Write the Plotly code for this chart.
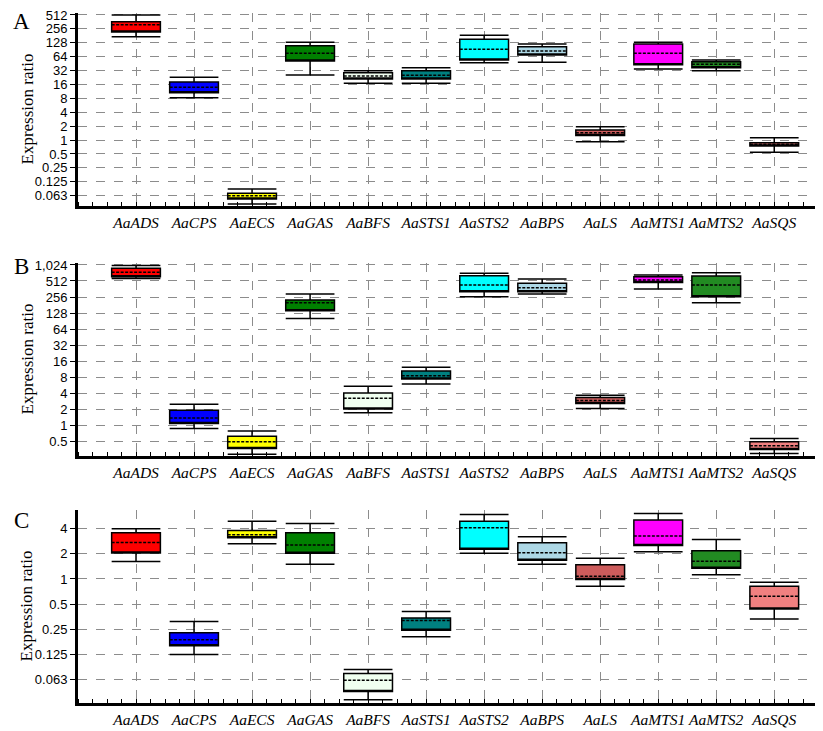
import plotly.graph_objects as go

# ---------------- data ----------------
genes = ["AaADS", "AaCPS", "AaECS", "AaGAS", "AaBFS", "AaSTS1",
         "AaSTS2", "AaBPS", "AaLS", "AaMTS1", "AaMTS2", "AaSQS"]
colors = ["#FF0000", "#0000FF", "#FFFF00", "#008000", "#F0FFF0", "#008080",
          "#00FFFF", "#ADD8E6", "#CD5C5C", "#FF00FF", "#228B22", "#F08080"]

# Panel A (expression ratios)
a_low = [173.7, 8.28, 0.0412, 25.6, 17.0, 17.0, 47.5, 48.5, 0.92, 34.8, 31.8, 0.543]
a_q1 = [219.8, 10.6, 0.0529, 51.6, 21.1, 21.1, 54.2, 69.6, 1.25, 42.8, 37.0, 0.747]
a_med = [315.2, 13.9, 0.0625, 75.6, 24.4, 25.3, 92.4, 85.0, 1.44, 75.6, 43.7, 0.812]
a_q3 = [367.1, 18.1, 0.0703, 110.7, 28.8, 31.8, 152.2, 105.4, 1.66, 120.3, 49.9, 0.877]
a_high = [512.0, 22.9, 0.0872, 131.6, 31.8, 37.0, 186.1, 120.3, 1.95, 131.6, 54.2, 1.125]

# Panel B
b_low = [568, 0.877, 0.289, 101.8, 1.73, 5.98, 259.6, 292, 2.085, 362, 200.8, 0.297]
b_q1 = [617, 1.087, 0.371, 142, 2.04, 7.41, 321.8, 321.8, 2.585, 477.7, 259.6, 0.354]
b_med = [744, 1.385, 0.493, 200.8, 3.25, 8.57, 430.5, 382.7, 2.948, 533.7, 430.5, 0.415]
b_q3 = [885, 1.932, 0.629, 225.9, 4.08, 10.48, 643.5, 464.7, 3.364, 617.4, 634.7, 0.493]
b_high = [996, 2.514, 0.790, 292, 5.46, 12.3, 714, 560, 3.706, 666, 734, 0.570]

# Panel C
c_low = [1.613, 0.125, 2.639, 1.495, 0.0359, 0.203, 2.028, 1.495, 0.818, 2.114, 1.125, 0.332]
c_q1 = [2.042, 0.159, 3.117, 2.028, 0.0451, 0.243, 2.266, 1.670, 0.986, 2.514, 1.347, 0.438]
c_med = [2.732, 0.188, 3.387, 2.549, 0.0612, 0.319, 4.11, 2.056, 1.079, 3.272, 1.625, 0.620]
c_q3 = [3.58, 0.227, 3.811, 3.58, 0.0738, 0.342, 4.89, 2.713, 1.484, 5.063, 2.173, 0.818]
c_high = [4.0, 0.31, 4.89, 4.595, 0.0825, 0.409, 5.9, 3.204, 1.765, 6.063, 2.969, 0.914]

a_ticks = [0.0625, 0.125, 0.25, 0.5, 1, 2, 4, 8, 16, 32, 64, 128, 256, 512]
a_ticktext = ["0.063", "0.125", "0.25", "0.5", "1", "2", "4", "8", "16", "32", "64", "128", "256", "512"]
b_ticks = [0.5, 1, 2, 4, 8, 16, 32, 64, 128, 256, 512, 1024]
b_ticktext = ["0.5", "1", "2", "4", "8", "16", "32", "64", "128", "256", "512", "1,024"]
c_ticks = [0.0625, 0.125, 0.25, 0.5, 1, 2, 4]
c_ticktext = ["0.063", "0.125", "0.25", "0.5", "1", "2", "4"]

panel_letters = ["A", "B", "C"]

# ---------------- figure ----------------
panels = [
    (a_low, a_q1, a_med, a_q3, a_high, a_ticks, a_ticktext, [-1.427, 2.752], [0.7203, 1.0]),
    (b_low, b_q1, b_med, b_q3, b_high, b_ticks, b_ticktext, [-0.572, 3.047], [0.358, 0.6377]),
    (c_low, c_q1, c_med, c_q3, c_high, c_ticks, c_ticktext, [-1.484, 0.825], [0.0, 0.2797]),
]

fig = go.Figure()
layout = dict(
    width=815, height=723,
    margin=dict(l=70, r=0, t=5, b=28, autoexpand=False),
    paper_bgcolor="white", plot_bgcolor="white",
    showlegend=False, boxmode="overlay",
    annotations=[],
)

letter_y = [0.987, 0.633, 0.264]

for p, (lo, q1, med, q3, hi, tv, tt, yr, dom) in enumerate(panels):
    sfx = "" if p == 0 else str(p + 1)
    for i, g in enumerate(genes):
        # median is drawn dashed (via the box "mean" line); the solid median
        # line is placed on the lower box edge so it is hidden.
        fig.add_trace(go.Box(
            x=[i], q1=[q1[i]], median=[q1[i]], mean=[med[i]], q3=[q3[i]],
            lowerfence=[lo[i]], upperfence=[hi[i]],
            boxmean=True, boxpoints=False,
            fillcolor=colors[i], line=dict(color="black", width=1.5),
            width=0.84, whiskerwidth=1, name=g,
            xaxis="x" + sfx, yaxis="y" + sfx, hoverinfo="skip",
        ))
    layout["xaxis" + sfx] = dict(
        domain=[0, 1], anchor="y" + sfx, type="linear",
        range=[-1, 11.84], automargin=False,
        tickmode="array", tickvals=list(range(len(genes))), ticktext=genes,
        tickfont=dict(family="Liberation Serif", size=15.5, color="black", style="italic"),
        tickangle=0, ticks="", ticklen=0, ticklabelstandoff=0,
        showgrid=True, gridcolor="#8c8c8c", griddash="dash", gridwidth=1,
        showline=True, linecolor="black", linewidth=3, zeroline=False,
        minor=dict(tickmode="linear", tick0=0, dtick=0.25, ticks="inside",
                   ticklen=4, tickcolor="black", tickwidth=1, showgrid=False),
    )
    layout["yaxis" + sfx] = dict(
        domain=dom, anchor="x" + sfx, type="log", range=yr, automargin=False,
        tickmode="array", tickvals=tv, ticktext=tt, ticklabeloverflow="allow",
        tickfont=dict(family="Liberation Sans", size=13, color="black"),
        ticks="outside", ticklen=5, tickcolor="black", tickwidth=1,
        showgrid=True, gridcolor="#8c8c8c", griddash="dash", gridwidth=1,
        showline=True, linecolor="black", linewidth=3, zeroline=False,
    )
    layout["annotations"].append(dict(
        text="Expression ratio", textangle=-90, showarrow=False,
        xref="paper", x=0, xshift=-51, xanchor="center",
        yref="y" + sfx + " domain", y=0.5, yanchor="middle",
        font=dict(family="Liberation Serif", size=17, color="black"),
    ))
    layout["annotations"].append(dict(
        text=panel_letters[p], showarrow=False,
        xref="paper", x=0, xshift=-57, xanchor="center",
        yref="paper", y=letter_y[p], yanchor="middle",
        font=dict(family="Liberation Serif", size=23, color="black"),
    ))

fig.update_layout(**layout)
fig.write_html("out.html")
